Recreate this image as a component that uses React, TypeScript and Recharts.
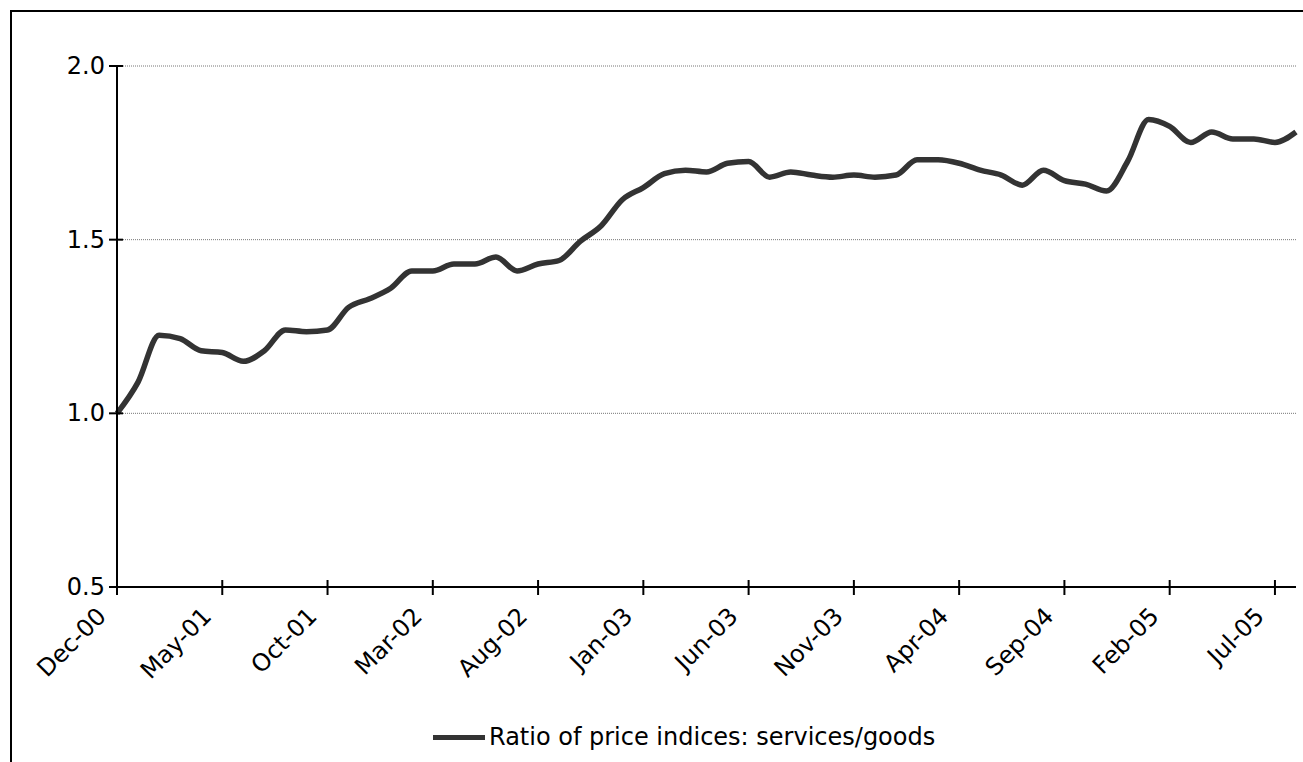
import { LineChart, Line, XAxis, YAxis, CartesianGrid, Legend } from 'recharts';

const months = [
  'Dec-00',
  'Jan-01', 'Feb-01', 'Mar-01', 'Apr-01', 'May-01', 'Jun-01', 'Jul-01', 'Aug-01', 'Sep-01', 'Oct-01', 'Nov-01', 'Dec-01',
  'Jan-02', 'Feb-02', 'Mar-02', 'Apr-02', 'May-02', 'Jun-02', 'Jul-02', 'Aug-02', 'Sep-02', 'Oct-02', 'Nov-02', 'Dec-02',
  'Jan-03', 'Feb-03', 'Mar-03', 'Apr-03', 'May-03', 'Jun-03', 'Jul-03', 'Aug-03', 'Sep-03', 'Oct-03', 'Nov-03', 'Dec-03',
  'Jan-04', 'Feb-04', 'Mar-04', 'Apr-04', 'May-04', 'Jun-04', 'Jul-04', 'Aug-04', 'Sep-04', 'Oct-04', 'Nov-04', 'Dec-04',
  'Jan-05', 'Feb-05', 'Mar-05', 'Apr-05', 'May-05', 'Jun-05', 'Jul-05', 'Aug-05',
];

// ratio of price indices, services / goods (Dec-00 = 1.0)
const ratio = [
  1.0,
  1.09, 1.225, 1.215, 1.18, 1.175, 1.15, 1.18, 1.24, 1.235, 1.24, 1.305, 1.33,
  1.36, 1.41, 1.41, 1.43, 1.43, 1.45, 1.41, 1.43, 1.44, 1.495, 1.54, 1.615,
  1.65, 1.69, 1.7, 1.695, 1.72, 1.725, 1.68, 1.695, 1.686, 1.68, 1.686, 1.68,
  1.686, 1.73, 1.73, 1.72, 1.7, 1.686, 1.657, 1.7, 1.67, 1.66, 1.64, 1.725,
  1.846, 1.826, 1.78, 1.81, 1.79, 1.79, 1.78, 1.81,
];

const yTicks = [0.5, 1.0, 1.5, 2.0];

const seriesName = 'Ratio of price indices: services/goods';

const FONT = '"DejaVu Sans", Verdana, sans-serif';

const data = months.map((m, i) => ({ month: m, ratio: ratio[i] }));

const XTick = ({ x, y, payload }: any) => {
  const tx = x - 15;
  const ty = y + 25;
  return (
    <g>
      <line x1={x} x2={x} y1={y - 7} y2={y + 8} stroke="#000" strokeWidth={2} />
      <text
        x={tx}
        y={ty}
        transform={`rotate(-45, ${tx}, ${ty})`}
        textAnchor="end"
        dominantBaseline="central"
        fontFamily={FONT}
        fontSize={24}
        fill="#000"
      >
        {payload.value}
      </text>
    </g>
  );
};

const YTick = ({ x, y, payload }: any) => (
  <g>
    <line x1={x - 8} x2={x + 6} y1={y} y2={y} stroke="#000" strokeWidth={2} />
    <text
      x={x - 12}
      y={y}
      textAnchor="end"
      dominantBaseline="central"
      fontFamily={FONT}
      fontSize={24}
      fill="#000"
    >
      {Number(payload.value).toFixed(1)}
    </text>
  </g>
);

const renderLegend = () => (
  <div style={{ height: 50, position: 'relative', fontFamily: FONT, fontSize: 24, color: '#000' }}>
    <div style={{ position: 'absolute', left: 423, top: 23, width: 52, height: 5, background: '#333' }} />
    <span style={{ position: 'absolute', left: 479, top: 0, lineHeight: '50px', whiteSpace: 'nowrap' }}>
      {seriesName}
    </span>
  </div>
);

export default function App() {
  return (
    <div style={{ position: 'fixed', left: 0, top: 0, width: 1303, height: 762, background: '#fff' }}>
      <div style={{ position: 'absolute', left: 10, top: 10, width: 2, height: 752, background: '#000' }} />
      <div style={{ position: 'absolute', left: 10, top: 10, width: 1293, height: 2, background: '#000' }} />
      <div style={{ position: 'absolute', left: 10, top: 10 }}>
        <LineChart
          width={1293}
          height={752}
          data={data}
          margin={{ top: 56, right: 7, left: 0, bottom: 0 }}
        >
          <CartesianGrid vertical={false} stroke="#777" strokeDasharray="1 1" strokeWidth={1} />
          <XAxis
            dataKey="month"
            interval={4}
            height={125}
            tickSize={0}
            tickMargin={0}
            tickLine={false}
            axisLine={{ stroke: '#000', strokeWidth: 2 }}
            tick={<XTick />}
          />
          <YAxis
            domain={[0.5, 2.0]}
            ticks={yTicks}
            width={107}
            tickSize={0}
            tickMargin={0}
            tickLine={false}
            axisLine={{ stroke: '#000', strokeWidth: 2 }}
            tick={<YTick />}
          />
          <Legend verticalAlign="bottom" content={renderLegend} wrapperStyle={{ left: 0, width: 1293 }} />
          <Line
            type="monotone"
            dataKey="ratio"
            name={seriesName}
            stroke="#333"
            strokeWidth={5.5}
            dot={false}
            isAnimationActive={false}
          />
        </LineChart>
      </div>
    </div>
  );
}
